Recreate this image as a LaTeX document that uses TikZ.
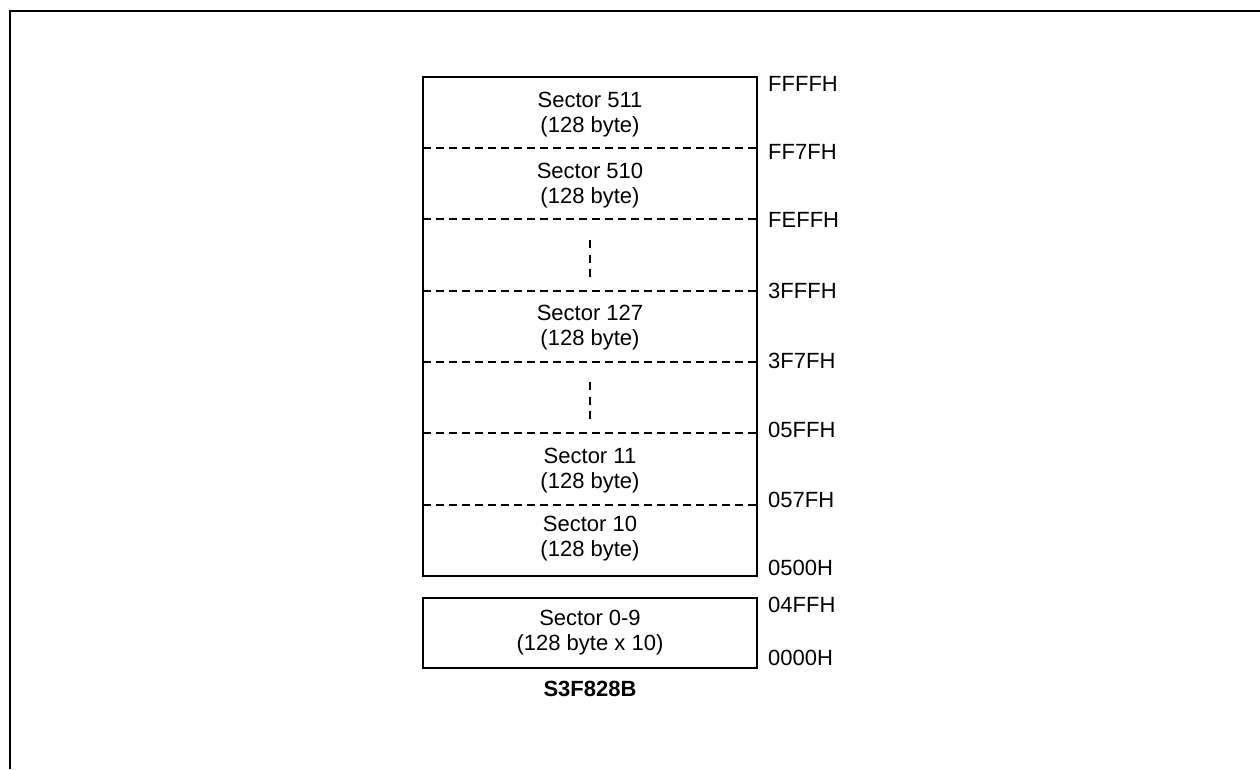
\documentclass[tikz,border=0pt]{standalone}
\usepackage{fontspec}
\setmainfont{Liberation Sans}
\begin{document}
\begin{tikzpicture}[x=1pt,y=-1pt,
  txt/.style={font=\fontsize{22}{25}\selectfont, align=center, inner sep=0pt},
  addr/.style={font=\fontsize{22}{25}\selectfont, anchor=west, inner sep=0pt},
  sepline/.style={line width=1.3pt, dash pattern=on 8pt off 5pt},
  vdots/.style={line width=1.3pt, dash pattern=on 8pt off 6.5pt},
  boxline/.style={line width=1.3pt},
  frameline/.style={line width=2.2pt}]
\useasboundingbox (0,0) rectangle (1260,769);
% outer frame (top and left only)
\coordinate (fb) at (10,769);
\coordinate (fc) at (10,11);
\coordinate (fr) at (1260,11);
\draw[frameline] (fb) -- (fc) -- (fr);
% main box
\coordinate (m1) at (423,77);
\coordinate (m2) at (757,576);
\draw[boxline] (m1) rectangle (m2);
% separators
\foreach \y/\n in {148/a,219/b,291/c,362/d,433/e,505/f}{
  \coordinate (l\n) at (423,\y);
  \coordinate (r\n) at (757,\y);
  \draw[sepline] (l\n) -- (r\n);
}
% vertical dots
\coordinate (v1a) at (590,240);
\coordinate (v1b) at (590,277);
\coordinate (v2a) at (590,382);
\coordinate (v2b) at (590,420);
\draw[vdots] (v1a) -- (v1b);
\draw[vdots] (v2a) -- (v2b);
% lower box
\coordinate (n1) at (423,598);
\coordinate (n2) at (757,668);
\draw[boxline] (n1) rectangle (n2);
% sector texts
\node[txt] (s511) at (590,114.5) {Sector 511\\(128 byte)};
\node[txt] (s510) at (590,185.5) {Sector 510\\(128 byte)};
\node[txt] (s127) at (590,328) {Sector 127\\(128 byte)};
\node[txt] (s11) at (590,470.5) {Sector 11\\(128 byte)};
\node[txt] (s10) at (590,539) {Sector 10\\(128 byte)};
\node[txt] (s09) at (590,633) {Sector 0-9\\(128 byte x 10)};
% addresses
\node[addr] (a1) at (768,84) {FFFFH};
\node[addr] (a2) at (768,152) {FF7FH};
\node[addr] (a3) at (768,220) {FEFFH};
\node[addr] (a4) at (768,291) {3FFFH};
\node[addr] (a5) at (768,361) {3F7FH};
\node[addr] (a6) at (768,430) {05FFH};
\node[addr] (a7) at (768,500) {057FH};
\node[addr] (a8) at (768,568) {0500H};
\node[addr] (a9) at (768,605) {04FFH};
\node[addr] (a10) at (768,658) {0000H};
% title
\node[txt, font=\fontsize{22}{25}\selectfont\bfseries] (title) at (590,689) {S3F828B};
\end{tikzpicture}
\end{document}
